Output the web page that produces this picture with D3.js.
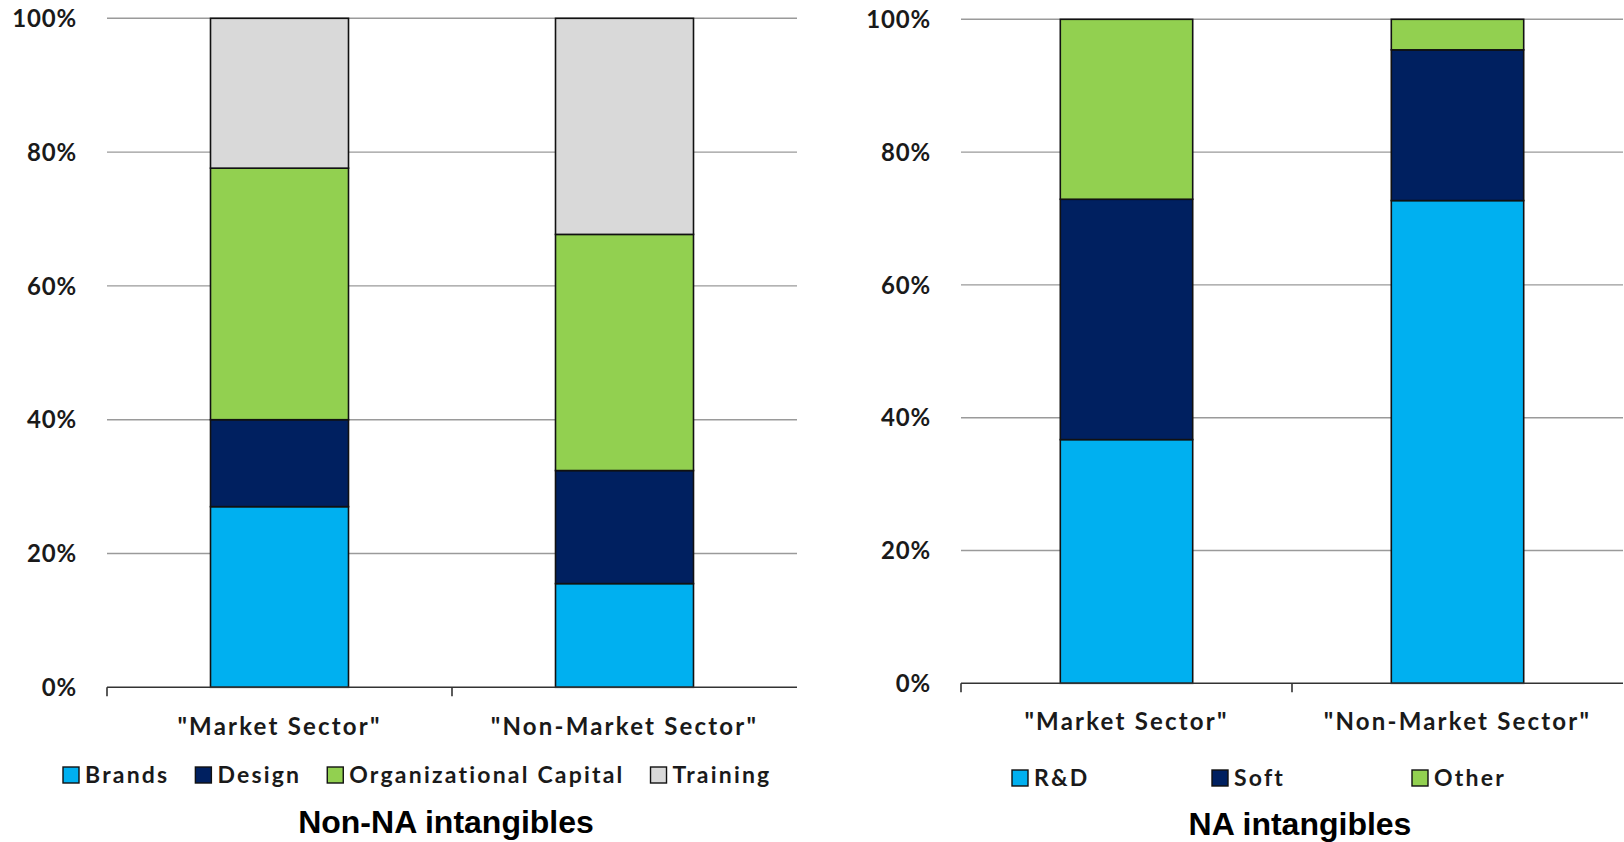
<!DOCTYPE html>
<html>
<head>
<meta charset="utf-8">
<script src="https://cdn.jsdelivr.net/npm/d3@7"></script>
<style>
  html, body { margin: 0; padding: 0; background: #fff; }
  svg { display: block; }
</style>
</head>
<body>
<svg id="chart" width="1624" height="842"></svg>
<script>
// ---------------- DATA ----------------
const categories = ['"Market Sector"', '"Non-Market Sector"'];
const yTickValues = [0, 20, 40, 60, 80, 100];
const yTickLabels = ["0%", "20%", "40%", "60%", "80%", "100%"];

// Non-NA intangibles (shares, %)
const nonNASeries = ["Brands", "Design", "Organizational Capital", "Training"];
const nonNAColors = ["#00B0F0", "#002060", "#92D050", "#D9D9D9"];
const nonNAMarket = [27.0, 13.0, 37.6, 22.4];
const nonNANonMarket = [15.5, 16.9, 35.3, 32.3];
const nonNATitle = "Non-NA intangibles";

// NA intangibles (shares, %)
const naSeries = ["R&D", "Soft", "Other"];
const naColors = ["#00B0F0", "#002060", "#92D050"];
const naMarket = [36.7, 36.2, 27.1];
const naNonMarket = [72.7, 22.7, 4.6];
const naTitle = "NA intangibles";

// ---------------- DRAW ----------------
const svg = d3.select("#chart");
const labelFont = "Lato, 'Open Sans', sans-serif";
const titleFont = "'Liberation Sans', Arial, sans-serif";
const textColor = "#1a1a1a";

function drawPanel(opt) {
  const g = svg.append("g");
  const rows = categories.map((c, i) => {
    const r = { cat: c };
    opt.series.forEach((s, j) => r[s] = opt.values[i][j]);
    return r;
  });
  const stacked = d3.stack().keys(opt.series)(rows);

  const x = d3.scaleBand().domain(categories).range([opt.x0, opt.x1]).paddingInner(0.6).paddingOuter(0.3);
  const xOuter = d3.scaleBand().domain(categories).range([opt.x0, opt.x1]);
  const y = d3.scaleLinear().domain([0, 100]).range([opt.yBottom, opt.yTop]);

  // gridlines
  g.append("g").selectAll("line").data(yTickValues.filter(v => v > 0)).join("line")
    .attr("x1", opt.x0).attr("x2", opt.x1)
    .attr("y1", d => y(d)).attr("y2", d => y(d))
    .attr("stroke", "#9a9a9a").attr("stroke-width", 1.4);

  // y tick labels
  g.append("g").selectAll("text").data(yTickValues).join("text")
    .attr("x", opt.x0 - 30).attr("y", d => y(d))
    .attr("dy", "0.36em")
    .attr("text-anchor", "end")
    .attr("font-family", labelFont).attr("font-weight", 700)
    .attr("font-size", 24).attr("fill", textColor)
    .style("letter-spacing", "0.8px")
    .text((d, i) => yTickLabels[i]);

  // bars
  g.append("g").selectAll("g").data(stacked).join("g")
    .attr("fill", (d, i) => opt.colors[i])
    .selectAll("rect").data(d => d).join("rect")
    .attr("x", d => x(d.data.cat))
    .attr("width", x.bandwidth())
    .attr("y", d => y(d[1]))
    .attr("height", d => y(d[0]) - y(d[1]))
    .attr("stroke", "#111").attr("stroke-width", 1.6);

  // x axis line + ticks
  const axisG = g.append("g");
  axisG.append("line")
    .attr("x1", opt.x0).attr("x2", opt.x1)
    .attr("y1", opt.yBottom).attr("y2", opt.yBottom)
    .attr("stroke", "#333").attr("stroke-width", 1.6);
  axisG.selectAll("line.tick").data(categories).join("line").attr("class", "tick")
    .attr("x1", d => xOuter(d)).attr("x2", d => xOuter(d))
    .attr("y1", opt.yBottom).attr("y2", opt.yBottom + 9)
    .attr("stroke", "#333").attr("stroke-width", 1.6);

  // category labels
  g.append("g").selectAll("text").data(categories).join("text")
    .attr("x", d => x(d) + x.bandwidth() / 2)
    .attr("y", opt.yBottom + opt.catDy)
    .attr("text-anchor", "middle")
    .attr("font-family", labelFont).attr("font-weight", 700)
    .attr("font-size", 24).attr("fill", textColor)
    .style("letter-spacing", "2.2px")
    .text(d => d);

  // legend
  const lg = g.append("g");
  let cursor = opt.legendX;
  opt.series.forEach((s, i) => {
    const item = lg.append("g");
    const bx = opt.legendStep ? opt.legendX + i * opt.legendStep : cursor;
    item.append("rect")
      .attr("x", bx).attr("y", opt.legendY)
      .attr("width", 16).attr("height", 16)
      .attr("fill", opt.colors[i]).attr("stroke", "#111").attr("stroke-width", 1.4);
    const t = item.append("text")
      .attr("x", bx + 22).attr("y", opt.legendY + 8)
      .attr("dy", "0.36em")
      .attr("font-family", labelFont).attr("font-weight", 700)
      .attr("font-size", 23).attr("fill", textColor)
      .style("letter-spacing", "2.2px")
      .text(s);
    cursor = bx + 22 + t.node().getComputedTextLength() + 26;
  });

  // title
  g.append("text")
    .attr("x", opt.titleX).attr("y", opt.titleY)
    .attr("text-anchor", "middle")
    .attr("font-family", titleFont).attr("font-weight", 700)
    .attr("font-size", 32).attr("fill", "#000")
    .text(opt.title);
}

drawPanel({
  series: nonNASeries, colors: nonNAColors,
  values: [nonNAMarket, nonNANonMarket],
  x0: 107, x1: 797, yTop: 18.3, yBottom: 687.3, catDy: 48,
  legendX: 63, legendY: 767, legendStep: 0,
  title: nonNATitle, titleX: 446, titleY: 833
});

drawPanel({
  series: naSeries, colors: naColors,
  values: [naMarket, naNonMarket],
  x0: 961, x1: 1623, yTop: 19.3, yBottom: 683.3, catDy: 47,
  legendX: 1012, legendY: 770, legendStep: 200,
  title: naTitle, titleX: 1300, titleY: 835
});
</script>
</body>
</html>
